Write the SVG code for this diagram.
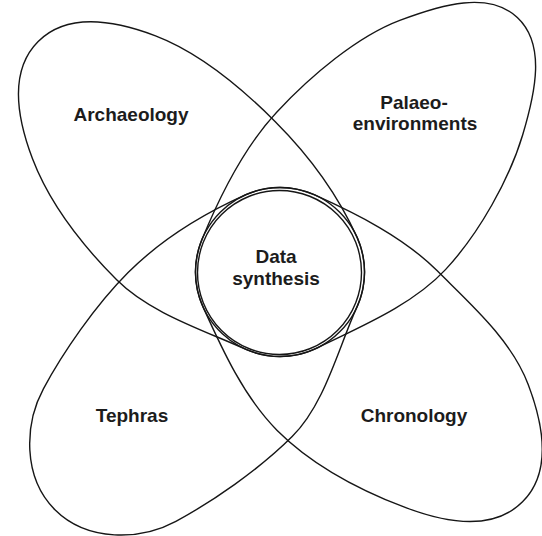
<svg xmlns="http://www.w3.org/2000/svg" width="542" height="536" viewBox="0 0 542 536">
  <style>
    .shape { fill: none; stroke: #161616; stroke-width: 1.4; }
    .label { font-family: "Liberation Sans", Arial, sans-serif; font-weight: bold; font-size: 19px; fill: #1c1c1c; text-anchor: middle; }
  </style>
  <rect width="542" height="536" fill="#ffffff"/>
  <g id="archaeology">
    <path class="shape" transform="translate(280 272) rotate(225)" d="M -84.5,0 C -84.5,35.1 -62.8,66.5 -30,79 C 14,95.7 63,103 110,103 C 158,103 211,98.7 255,79 C 293.9,61.5 334,34.6 334,-8 C 334,-50.6 293.9,-77.5 255,-95 C 211,-114.7 158,-121 110,-121 C 63,-121 14,-95.7 -30,-79 C -62.8,-66.5 -84.5,-35.1 -84.5,0 Z"/>
    <text class="label" x="131" y="121">Archaeology</text>
  </g>
  <g id="palaeoenvironments">
    <path class="shape" transform="translate(280 272) rotate(-47)" d="M -84.5,0 C -84.5,35.1 -62.8,66.5 -30,79 C 14,95.7 65.6,119.4 114.6,119.4 C 164.6,119.4 225.3,104 265.7,84 C 306.2,64 348,39 348,0 C 348,-39 306.2,-64 265.7,-84 C 225.3,-104 164.6,-111.4 114.6,-111.4 C 65.6,-111.4 14,-95.7 -30,-79 C -62.8,-66.5 -84.5,-35.1 -84.5,0 Z"/>
    <text class="label" x="414" y="109">Palaeo-</text>
    <text class="label" x="415" y="130">environments</text>
  </g>
  <g id="tephras">
    <path class="shape" transform="translate(280 272) rotate(135)" d="M -84.5,0 C -84.5,35.1 -62.8,66.5 -30,79 C 14,95.7 61.7,107 107.8,107 C 154.8,107 211.6,96.2 249.9,84.7 C 288.2,73.2 327.3,37 327.3,-9 C 327.3,-55 288.2,-91.2 249.9,-102.7 C 211.6,-114.2 154.8,-125 107.8,-125 C 61.7,-125 14,-95.7 -30,-79 C -62.8,-66.5 -84.5,-35.1 -84.5,0 Z"/>
    <text class="label" x="132" y="422">Tephras</text>
  </g>
  <g id="chronology">
    <path class="shape" transform="translate(280 272) rotate(45)" d="M -84.5,0 C -84.5,35.1 -62.8,66.5 -30,79 C 14,95.7 63,114 110,114 C 158,114 211,97.7 255,78 C 293.9,60.5 334,33.6 334,-9 C 334,-51.6 293.9,-78.5 255,-96 C 211,-115.7 158,-112 110,-112 C 63,-112 14,-95.7 -30,-79 C -62.8,-66.5 -84.5,-35.1 -84.5,0 Z"/>
    <text class="label" x="414" y="422">Chronology</text>
  </g>
  <g id="data-synthesis">
    <circle class="shape" cx="279.5" cy="272.5" r="82"/>
    <text class="label" x="276" y="263">Data</text>
    <text class="label" x="276" y="285">synthesis</text>
  </g>
  <g id="connectors"/>
</svg>
